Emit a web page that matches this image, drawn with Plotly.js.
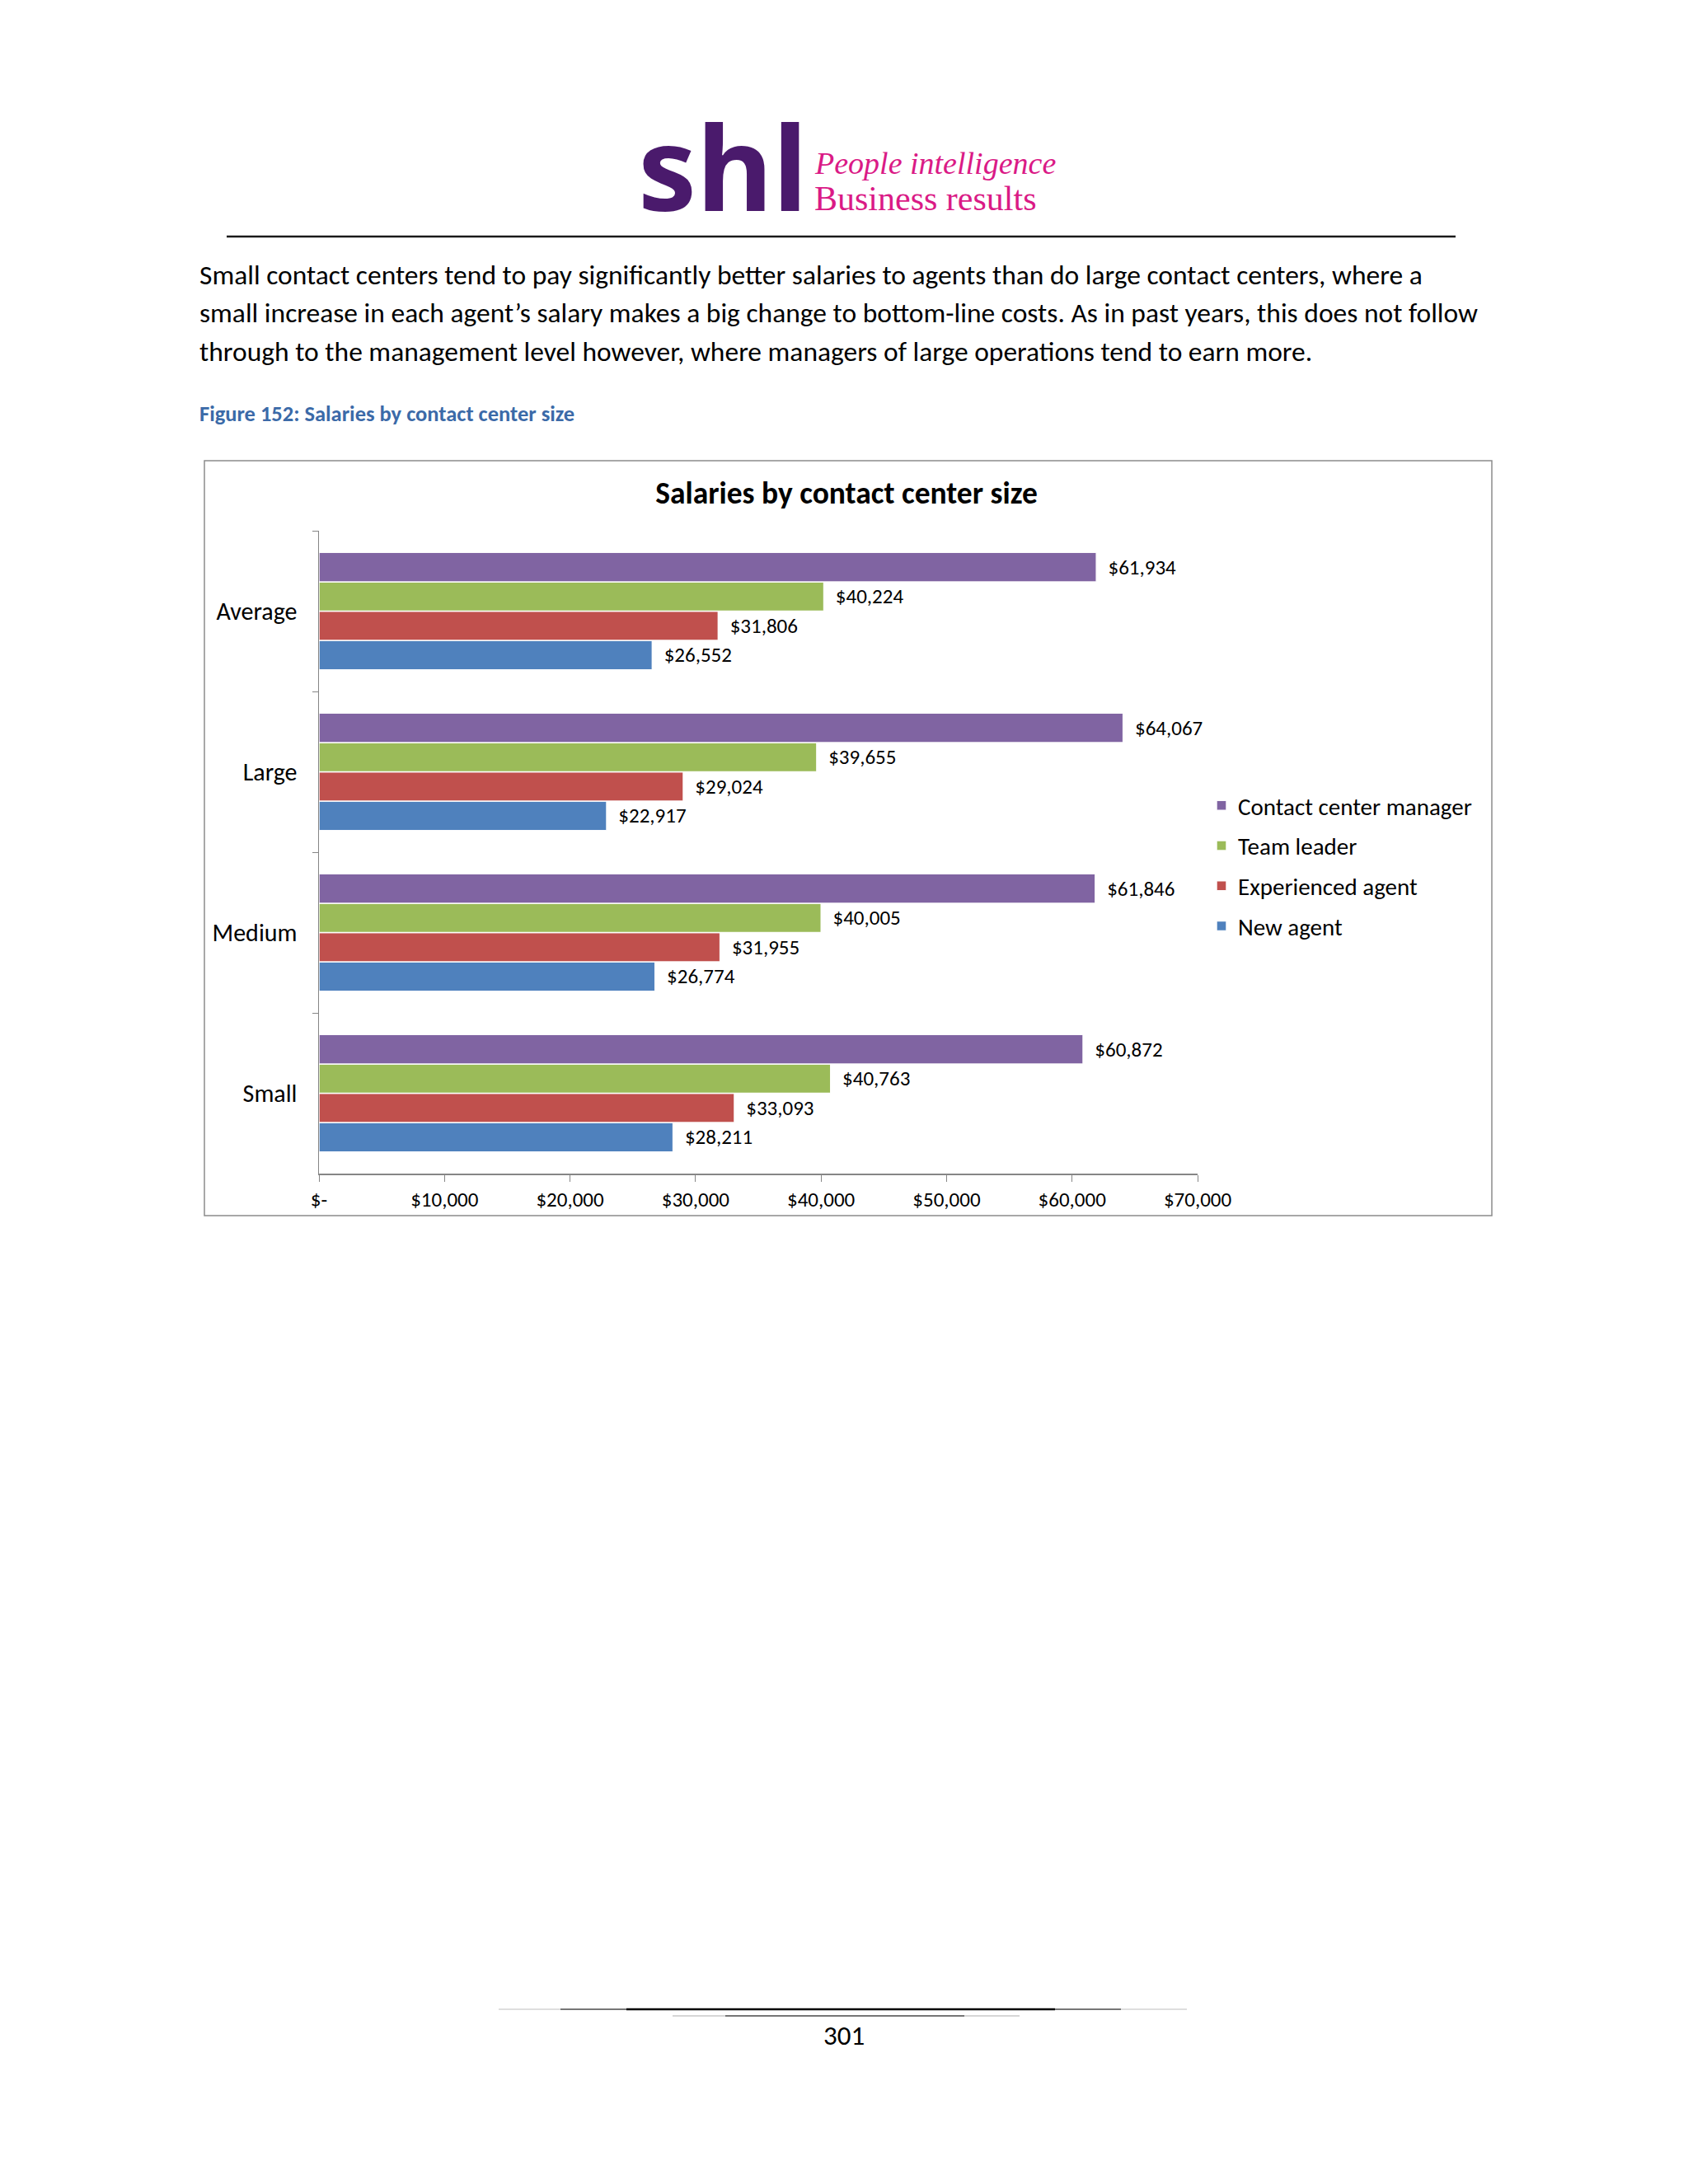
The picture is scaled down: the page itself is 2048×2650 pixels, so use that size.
<!DOCTYPE html>
<html>
<head>
<meta charset="utf-8">
<script src="https://cdn.plot.ly/plotly-3.0.1.min.js"></script>
<style>
  html, body { margin: 0; padding: 0; background: #ffffff; }
  #chart { width: 2048px; height: 2650px; }
</style>
</head>
<body>
<div id="chart"></div>
<script>
// ---- Data ----
const categories = ['Small', 'Medium', 'Large', 'Average'];   // bottom -> top
const seriesNames = ['New agent', 'Experienced agent', 'Team leader', 'Contact center manager'];
const newAgent        = [28211, 26774, 22917, 26552];
const experiencedAgent= [33093, 31955, 29024, 31806];
const teamLeader      = [40763, 40005, 39655, 40224];
const centerManager   = [60872, 61846, 64067, 61934];
const seriesColors = ['#4F81BD', '#C0504D', '#9BBB59', '#8064A2'];
const legendRanks = [4, 3, 2, 1];
const xTickVals = [0, 10000, 20000, 30000, 40000, 50000, 60000, 70000];
const xTickText = ['$-', '$10,000', '$20,000', '$30,000', '$40,000', '$50,000', '$60,000', '$70,000'];

const paragraphLines = [
  'Small contact centers tend to pay significantly better salaries to agents than do large contact centers, where a',
  'small increase in each agent\u2019s salary makes a big change to bottom-line costs. As in past years, this does not follow',
  'through to the management level however, where managers of large operations tend to earn more.'
];
const figureCaption = 'Figure 152: Salaries by contact center size';
const chartTitle = 'Salaries by contact center size';
const pageNumber = '301';

// ---- Helpers ----
const W = 2048, H = 2650;
const px = x => x / W;
const py = y => 1 - y / H;
const FONT = 'Carlito, Calibri, Lato, "Open Sans", sans-serif';

const allSeries = [newAgent, experiencedAgent, teamLeader, centerManager];
const traces = allSeries.map((vals, i) => ({
  type: 'bar',
  orientation: 'h',
  name: seriesNames[i],
  y: categories,
  x: vals,
  legendgroup: 'g' + i,
  legendrank: legendRanks[i],
  marker: { color: seriesColors[i], line: { color: 'rgba(255,255,255,0.95)', width: 1.5 } },
  text: vals,
  texttemplate: '\u00a0\u00a0$%{x:,}',
  textposition: 'outside',
  cliponaxis: false,
  textfont: { family: FONT, size: 25, color: '#000000' },
  hoverinfo: 'x+name'
}));

const annotations = [];
paragraphLines.forEach((t, i) => {
  annotations.push({
    xref: 'paper', yref: 'paper', x: px(240), y: py(333 + i * 47),
    xanchor: 'left', yanchor: 'middle', showarrow: false, text: t,
    font: { family: FONT, size: 33.5, color: '#000000' }
  });
});
annotations.push({
  xref: 'paper', yref: 'paper', x: px(240), y: py(502),
  xanchor: 'left', yanchor: 'middle', showarrow: false, text: '<b>' + figureCaption + '</b>',
  font: { family: FONT, size: 26.5, color: '#3B6AA8' }
});
// logo
annotations.push({
  xref: 'paper', yref: 'paper', x: px(772), y: py(300),
  xanchor: 'left', yanchor: 'bottom', showarrow: false, text: '<b>shl</b>',
  font: { family: '"Noto Sans", "DejaVu Sans", sans-serif', size: 142, color: '#4A1A6C' }
});
annotations.push({
  xref: 'paper', yref: 'paper', x: px(986), y: py(198),
  xanchor: 'left', yanchor: 'middle', showarrow: false, text: '<i>People intelligence</i>',
  font: { family: '"Liberation Serif", "DejaVu Serif", serif', size: 38, color: '#DA1A86' }
});
annotations.push({
  xref: 'paper', yref: 'paper', x: px(986), y: py(241),
  xanchor: 'left', yanchor: 'middle', showarrow: false, text: 'Business results',
  font: { family: '"Liberation Serif", "DejaVu Serif", serif', size: 42, color: '#DA1A86' }
});
annotations.push({
  xref: 'paper', yref: 'paper', x: 0.5, y: py(2470),
  xanchor: 'center', yanchor: 'middle', showarrow: false, text: pageNumber,
  font: { family: FONT, size: 33, color: '#000000' }
});

const shapes = [
  // header rule
  { type: 'line', xref: 'paper', yref: 'paper', x0: px(275), x1: px(1766), y0: py(287), y1: py(287),
    line: { color: '#1a1a1a', width: 2.5 } },
  // chart border
  { type: 'rect', xref: 'paper', yref: 'paper', x0: px(248), x1: px(1810), y0: py(559), y1: py(1475),
    line: { color: '#8c8c8c', width: 1.5 }, fillcolor: 'rgba(0,0,0,0)' },
  // footer lines
  { type: 'line', xref: 'paper', yref: 'paper', x0: px(605), x1: px(1440), y0: py(2438), y1: py(2438),
    line: { color: '#bdbdbd', width: 1 } },
  { type: 'line', xref: 'paper', yref: 'paper', x0: px(680), x1: px(1360), y0: py(2438), y1: py(2438),
    line: { color: '#555555', width: 1.5 } },
  { type: 'line', xref: 'paper', yref: 'paper', x0: px(760), x1: px(1280), y0: py(2438), y1: py(2438),
    line: { color: '#000000', width: 2.5 } },
  { type: 'line', xref: 'paper', yref: 'paper', x0: px(816), x1: px(1237), y0: py(2446), y1: py(2446),
    line: { color: '#c8c8c8', width: 1.5 } },
  { type: 'line', xref: 'paper', yref: 'paper', x0: px(880), x1: px(1170), y0: py(2446), y1: py(2446),
    line: { color: '#555555', width: 1.5 } }
];

const layout = {
  width: W, height: H,
  margin: { l: 0, r: 0, t: 0, b: 0 },
  paper_bgcolor: '#ffffff',
  plot_bgcolor: 'rgba(0,0,0,0)',
  barmode: 'group',
  bargap: 0.27,
  bargroupgap: 0,
  showlegend: true,
  title: {
    text: '<b>' + chartTitle + '</b>',
    x: px(1027), y: py(598), xref: 'paper', yref: 'container',
    xanchor: 'center', yanchor: 'middle',
    font: { family: FONT, size: 37.5, color: '#000000' }
  },
  xaxis: {
    domain: [px(387), px(1453)],
    range: [0, 70000],
    tickvals: xTickVals, ticktext: xTickText,
    showgrid: false, zeroline: false,
    showline: true, linecolor: '#868686', linewidth: 1.5,
    ticks: 'outside', ticklen: 8, tickcolor: '#868686', tickwidth: 1,
    tickfont: { family: FONT, size: 25, color: '#000000' },
    fixedrange: true
  },
  yaxis: {
    domain: [py(1424), py(644)],
    type: 'category',
    categoryorder: 'array', categoryarray: categories,
    range: [-0.5, 3.5],
    showgrid: false, zeroline: false,
    showline: true, linecolor: '#868686', linewidth: 1.5,
    ticks: 'outside', ticklen: 7, tickcolor: '#868686', tickwidth: 1,
    tickson: 'boundaries',
    ticklabelstandoff: 19,
    tickfont: { family: FONT, size: 30, color: '#000000' },
    fixedrange: true
  },
  legend: {
    x: px(1462), y: py(952), xanchor: 'left', yanchor: 'top',
    traceorder: 'grouped',
    tracegroupgap: 8,
    bgcolor: 'rgba(0,0,0,0)',
    font: { family: FONT, size: 29, color: '#000000' },
    itemwidth: 30
  },
  annotations: annotations,
  shapes: shapes
};

Plotly.newPlot('chart', traces, layout, { staticPlot: true, displayModeBar: false });
</script>
</body>
</html>
